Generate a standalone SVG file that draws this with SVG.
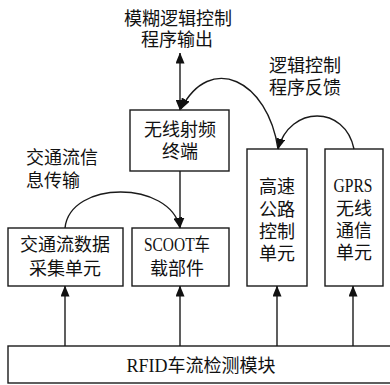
<svg xmlns="http://www.w3.org/2000/svg" width="390" height="385" viewBox="0 0 390 385">
  <style>
    .box { fill: #ffffff; stroke: #1a1a1a; stroke-width: 1.4; }
    .lbl { font-family: "Liberation Serif", "Noto Sans CJK SC", serif; font-size: 18px; fill: #111111; text-anchor: middle; }
    .start { text-anchor: start; }
    .wire { fill: none; stroke: #1a1a1a; stroke-width: 1.4; }
  </style>
  <defs>
    <marker id="arrow" markerUnits="userSpaceOnUse" markerWidth="11" markerHeight="9" viewBox="0 0 11 9" refX="10.5" refY="4.5" orient="auto-start-reverse">
      <path d="M0,0 L11,4.5 L0,9 z" fill="#111111"/>
    </marker>
  </defs>

  <rect width="390" height="385" fill="#ffffff"/>

  <!-- free labels -->
  <g id="label-fuzzy-output">
    <text class="lbl"><tspan x="178" y="24.5">模糊逻辑控制</tspan><tspan x="177" y="45.5">程序输出</tspan></text>
  </g>
  <g id="label-feedback">
    <text class="lbl"><tspan x="305" y="71.5">逻辑控制</tspan><tspan x="305" y="93.5">程序反馈</tspan></text>
  </g>
  <g id="label-traffic-info">
    <text class="lbl start"><tspan x="26" y="164">交通流信</tspan><tspan x="26" y="187">息传输</tspan></text>
  </g>

  <!-- nodes -->
  <g id="rf-terminal">
    <rect class="box" x="130" y="110" width="99" height="61"/>
    <text class="lbl"><tspan x="180" y="136">无线射频</tspan><tspan x="180" y="157.5">终端</tspan></text>
  </g>
  <g id="traffic-collector">
    <rect class="box" x="8" y="228" width="115" height="58"/>
    <text class="lbl"><tspan x="65" y="250.5">交通流数据</tspan><tspan x="65" y="274.5">采集单元</tspan></text>
  </g>
  <g id="scoot-unit">
    <rect class="box" x="132" y="228" width="97" height="58"/>
    <text class="lbl start" x="144" y="250.5" textLength="66" lengthAdjust="spacingAndGlyphs">SCOOT车</text>
    <text class="lbl" x="177" y="274.5">载部件</text>
  </g>
  <g id="highway-control">
    <rect class="box" x="247" y="149" width="60" height="137"/>
    <text class="lbl"><tspan x="277" y="193">高速</tspan><tspan x="277" y="216">公路</tspan><tspan x="277" y="238">控制</tspan><tspan x="277" y="259.5">单元</tspan></text>
  </g>
  <g id="gprs-unit">
    <rect class="box" x="325" y="149" width="58" height="137"/>
    <text class="lbl"><tspan x="353" y="191.5" textLength="39" lengthAdjust="spacingAndGlyphs">GPRS</tspan><tspan x="354" y="215">无线</tspan><tspan x="354" y="237">通信</tspan><tspan x="354" y="259">单元</tspan></text>
  </g>
  <g id="rfid-module">
    <rect class="box" x="8" y="346" width="390" height="37"/>
    <text class="lbl" x="201" y="371.5">RFID车流检测模块</text>
  </g>

  <!-- connectors -->
  <g id="connectors">
    <line class="wire" x1="180" y1="53" x2="180" y2="110" marker-start="url(#arrow)" marker-end="url(#arrow)"/>
    <line class="wire" x1="180" y1="171" x2="180" y2="228" marker-end="url(#arrow)"/>
    <line class="wire" x1="65" y1="346" x2="65" y2="286" marker-end="url(#arrow)"/>
    <line class="wire" x1="180" y1="346" x2="180" y2="286" marker-end="url(#arrow)"/>
    <line class="wire" x1="277" y1="346" x2="277" y2="286" marker-end="url(#arrow)"/>
    <line class="wire" x1="353" y1="346" x2="353" y2="286" marker-end="url(#arrow)"/>
    <path class="wire" d="M65,228 C70,180 170,180 180,228" marker-end="url(#arrow)"/>
    <path class="wire" d="M278,149 C268,80 210,52 181,109" marker-end="url(#arrow)"/>
    <path class="wire" d="M354,149 C345,105 290,105 278,149" marker-end="url(#arrow)"/>
  </g>
</svg>
